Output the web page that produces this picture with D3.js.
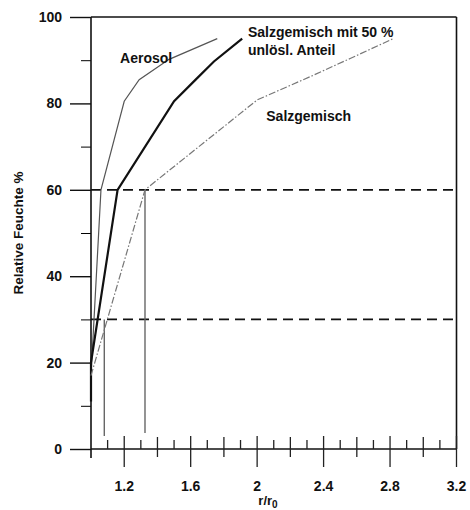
<!DOCTYPE html>
<html><head><meta charset="utf-8">
<script src="https://cdn.jsdelivr.net/npm/d3@7"></script>
<style>
body{margin:0;background:#fff;}
svg{display:block;}
text{font-family:"Liberation Sans",Arial,sans-serif;fill:#111;}
</style></head>
<body>
<svg id="c" width="470" height="510"></svg>
<script>
// ---- data ----
const xMajorLabels = [1.2, 1.6, 2.0, 2.4, 2.8, 3.2];
const xMediumTicks = [1.4, 1.8, 2.2, 2.6, 3.0];
const xMinorTicks = [1.1, 1.3, 1.5, 1.7, 1.9, 2.1, 2.3, 2.5, 2.7, 2.9, 3.1];
const yMajorTicks = [0, 20, 40, 60, 80, 100];
const yMinorTicks = [10, 30, 50, 70, 90];

const aerosolX = [1.0, 1.06, 1.2, 1.29, 1.47, 1.76];
const aerosolY = [17, 60, 80.5, 85.5, 90.2, 95];
const mix50X = [1.0, 1.0, 1.16, 1.5, 1.63, 1.74, 1.91];
const mix50Y = [11, 20, 60, 80.5, 85.5, 89.7, 95];
const saltX = [1.0, 1.325, 2.0, 2.32, 2.56, 2.82];
const saltY = [17, 60, 80.8, 86.2, 90.4, 95];

const refLevels = [60, 30];           // dashed humidity levels
const dropX = [1.325, 1.08];           // vertical drop lines
const dropTop = [60, 30];
const dropBottom = [3.7, 3];

const labels = [
  {t: "Aerosol", x: 1.175, y: 90.3},
  {t: "Salzgemisch mit 50 %", x: 1.945, y: 96.2},
  {t: "unlösl. Anteil", x: 1.945, y: 92.0},
  {t: "Salzgemisch", x: 2.055, y: 76.8}
];

// ---- chart ----
const svg = d3.select("#c");
const x = d3.scaleLinear().domain([1, 3.2]).range([91, 456.5]);
const y = d3.scaleLinear().domain([0, 100]).range([449, 17]);

// frame: top and right
svg.append("line").attr("x1", x(1)).attr("x2", x(3.2)).attr("y1", y(100)).attr("y2", y(100))
  .attr("stroke", "#111").attr("stroke-width", 1.6);
svg.append("line").attr("x1", x(3.2)).attr("x2", x(3.2)).attr("y1", y(100)).attr("y2", y(0))
  .attr("stroke", "#111").attr("stroke-width", 1.6);

// y axis
const yAx = svg.append("g").attr("transform", `translate(${x(1)},0)`)
  .call(d3.axisLeft(y).tickValues(yMajorTicks).tickSize(21).tickPadding(8).tickFormat(d3.format("d")));
yAx.select(".domain").remove();
svg.append("g").attr("transform", `translate(${x(1)},0)`)
  .call(d3.axisLeft(y).tickValues(yMinorTicks).tickSize(10).tickFormat(""))
  .select(".domain").remove();
svg.append("line").attr("x1", x(1)).attr("x2", x(1)).attr("y1", y(100)).attr("y2", y(0) + 9)
  .attr("stroke", "#111").attr("stroke-width", 1.6);

// x axis baseline
svg.append("line").attr("x1", x(1)).attr("x2", x(3.2)).attr("y1", y(0)).attr("y2", y(0))
  .attr("stroke", "#111").attr("stroke-width", 1.4);

const tickG = svg.append("g").attr("stroke", "#222").attr("stroke-width", 1.3);
tickG.selectAll(".mn").data(xMinorTicks).join("line")
  .attr("x1", d => x(d)).attr("x2", d => x(d)).attr("y1", y(0) - 9).attr("y2", y(0));
tickG.selectAll(".md").data(xMediumTicks).join("line")
  .attr("x1", d => x(d)).attr("x2", d => x(d)).attr("y1", y(0) - 12).attr("y2", y(0) + 8);
tickG.selectAll(".mj").data(xMajorLabels).join("line")
  .attr("x1", d => x(d)).attr("x2", d => x(d)).attr("y1", y(0) - 13).attr("y2", y(0) + 18);

svg.selectAll(".xl").data(xMajorLabels).join("text")
  .attr("x", d => x(d)).attr("y", 491).attr("text-anchor", "middle")
  .attr("font-size", 14).attr("font-weight", "bold")
  .text(d => d3.format("~g")(d));

yAx.selectAll("text").attr("font-size", 14).attr("font-weight", "bold")
  .style("font-family", "'Liberation Sans',Arial,sans-serif").attr("fill", "#111");
yAx.selectAll("line").attr("stroke", "#111").attr("stroke-width", 1.4);

// axis titles
const xt = svg.append("text").attr("x", 268).attr("y", 505).attr("text-anchor", "middle")
  .attr("font-size", 13).attr("font-weight", "bold");
xt.append("tspan").text("r/r");
xt.append("tspan").attr("font-size", 10).attr("dy", 3).text("0");

svg.append("text").attr("transform", "translate(23,233) rotate(-90)")
  .attr("text-anchor", "middle").attr("font-size", 13.5).attr("font-weight", "bold")
  .text("Relative Feuchte %");

// dashed reference levels
svg.selectAll(".ref").data(refLevels).join("line")
  .attr("x1", x(1)).attr("x2", x(3.2)).attr("y1", d => y(d)).attr("y2", d => y(d))
  .attr("stroke", "#111").attr("stroke-width", 1.8).attr("stroke-dasharray", "10,6");

// vertical drop lines
svg.selectAll(".drop").data(dropX).join("line")
  .attr("x1", d => x(d)).attr("x2", d => x(d))
  .attr("y1", (d, i) => y(dropTop[i])).attr("y2", (d, i) => y(dropBottom[i]))
  .attr("stroke", "#666").attr("stroke-width", 1.4);

// curves
const line = d3.line().x(d => x(d[0])).y(d => y(d[1]));
const zip = (a, b) => a.map((v, i) => [v, b[i]]);
svg.append("path").datum(zip(aerosolX, aerosolY)).attr("d", line)
  .attr("fill", "none").attr("stroke", "#555").attr("stroke-width", 1.2);
svg.append("path").datum(zip(mix50X, mix50Y)).attr("d", line)
  .attr("fill", "none").attr("stroke", "#111").attr("stroke-width", 2.2);
svg.append("path").datum(zip(saltX, saltY)).attr("d", line)
  .attr("fill", "none").attr("stroke", "#777").attr("stroke-width", 1.2)
  .attr("stroke-dasharray", "7,2,1.5,2");

// curve labels
svg.selectAll(".lab").data(labels).join("text")
  .attr("x", d => x(d.x)).attr("y", d => y(d.y))
  .attr("font-size", 14).attr("font-weight", "bold").attr("dominant-baseline", "middle")
  .text(d => d.t);
</script>
</body></html>
